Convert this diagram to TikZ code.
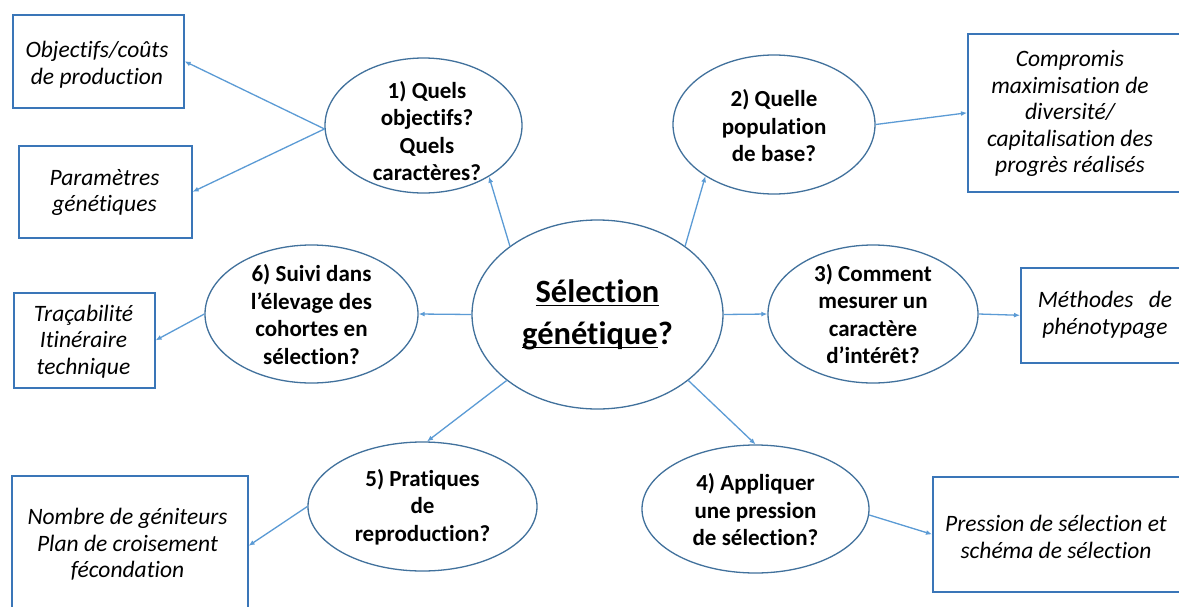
\documentclass[tikz,border=0pt]{standalone}
\usepackage{fontspec}
\setmainfont{Carlito}[Ligatures={NoCommon}]
\usetikzlibrary{arrows.meta,shapes.geometric}
\definecolor{ellcol}{HTML}{41719C}
\definecolor{boxcol}{HTML}{3A76B8}
\definecolor{arrcol}{HTML}{5B9BD5}
\newcommand\myul[1]{\setbox0\hbox{#1}\rlap{\rule[-4pt]{\wd0}{1.6pt}}\box0}
\begin{document}
\begin{tikzpicture}[x=1pt,y=-1pt,
  bub/.style={ellipse, draw=ellcol, line width=1.3pt, inner sep=0pt},
  bubtext/.style={align=center, inner sep=0pt, font=\fontsize{23}{27.5}\selectfont\bfseries},
  maintext/.style={align=center, inner sep=0pt, font=\fontsize{32.5}{42}\selectfont\bfseries},
  frame/.style={rectangle, draw=boxcol, line width=1.6pt, inner sep=0pt, anchor=north west},
  note/.style={align=center, inner sep=0pt, font=\fontsize{23.5}{26.5}\selectfont\itshape},
  link/.style={draw=arrcol, line width=1.3pt, -{Latex[length=6pt,width=5pt]}}]
\path[use as bounding box, fill=white] (0,0) rectangle (1179,606);

% ellipses
\node[bub, minimum width=251pt, minimum height=189pt] (c) at (597.5,314.5) {};
\node[maintext] (qc) at (c.center) {\myul{Sélection}\\\myul{génétique}?};
\node[bub, minimum width=197pt, minimum height=135pt] (e1) at (423.5,125.5) {};
\node[bub, minimum width=202pt, minimum height=139pt] (e2) at (774,124.5) {};
\node[bub, minimum width=210pt, minimum height=138pt] (e3) at (873,314) {};
\node[bub, minimum width=227pt, minimum height=128pt] (e4) at (755.5,509) {};
\node[bub, minimum width=229pt, minimum height=129pt] (e5) at (422.5,506.5) {};
\node[bub, minimum width=213pt, minimum height=138pt] (e6) at (311.5,314) {};

\node[bubtext] (q1) at (427,131) {1) Quels\\objectifs?\\Quels\\caractères?};
\node[bubtext] (q2) at (774,126) {2) Quelle\\population\\de base?};
\node[bubtext] (q3) at (873,314) {3) Comment\\mesurer un\\caractère\\d’intérêt?};
\node[bubtext] (q4) at (755.5,510) {4) Appliquer\\une pression\\de sélection?};
\node[bubtext] (q5) at (422.5,507) {5) Pratiques\\de\\reproduction?};
\node[bubtext] (q6) at (311.5,314.5) {6) Suivi dans\\l’élevage des\\cohortes en\\sélection?};

% boxes
\node[frame, minimum width=171pt, minimum height=93pt] (b1) at (12,14) {};
\node[frame, minimum width=173pt, minimum height=92pt] (b2) at (18,145) {};
\node[frame, minimum width=230pt, minimum height=158pt] (b3) at (967,33) {};
\node[frame, minimum width=180pt, minimum height=95pt] (b4) at (1020,267) {};
\node[frame, minimum width=260pt, minimum height=115pt] (b5) at (932,476) {};
\node[frame, minimum width=236pt, minimum height=140pt] (b6) at (11,475) {};
\node[frame, minimum width=141pt, minimum height=95pt] (b7) at (13,292) {};

\node[note] (t1) at (97,64.5) {Objectifs/coûts\\de production};
\node[note] (t2) at (104.5,192.5) {Paramètres\\génétiques};
\node[note] (t3) at (1070,113.5) {Compromis\\maximisation de\\diversité/\\capitalisation des\\progrès réalisés};
\node[note] (t4) at (1105,315) {Méthodes\hspace{10pt} de\\phénotypage};
\node[note] (t5) at (1056,537) {Pression de sélection et\\schéma de sélection};
\node[note] (t6) at (127.5,544.5) {Nombre de géniteurs\\Plan de croisement\\fécondation};
\node[note] (t7) at (83.5,341.5) {Traçabilité\\Itinéraire\\technique};

% connectors
\draw[link] (c.142) -- (e1.-38);
\draw[link] (c.38) -- (e2.217);
\draw[link] (c.east) -- (e3.west);
\draw[link] (c.324) -- (e4.north);
\draw[link] (c.216) -- (e5.86);
\draw[link] (c.west) -- (e6.east);
\draw[link] (e1.182) -- (b1.east);
\draw[link] (e1.182) -- (b2.east);
\draw[link] (e2.east) -- (b3.west);
\draw[link] (e3.east) -- (b4.west);
\draw[link] (e4.-3) -- (b5.west);
\draw[link] (e5.west) -- (b6.east);
\draw[link] (e6.west) -- (b7.east);
\end{tikzpicture}
\end{document}
